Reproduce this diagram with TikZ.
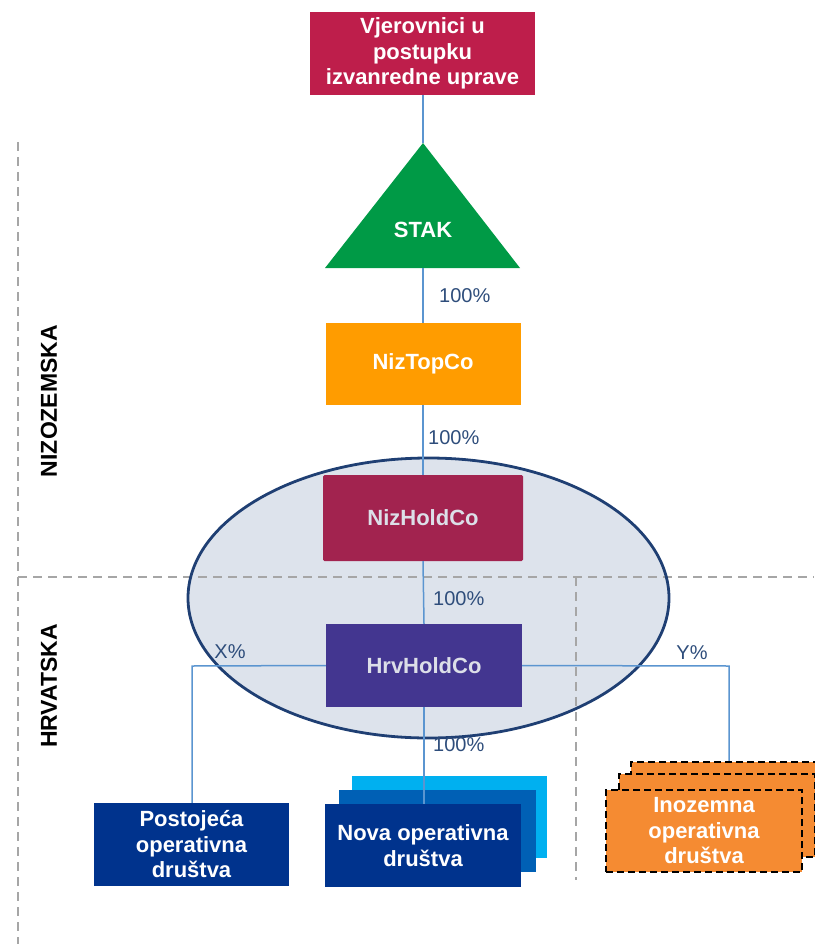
\documentclass[tikz,border=0pt]{standalone}
\usepackage{fontspec}
\setmainfont{Liberation Sans}
\definecolor{topc}{HTML}{BE1E4B}
\definecolor{stakc}{HTML}{009A46}
\definecolor{niztopc}{HTML}{FF9C00}
\definecolor{nizholdc}{HTML}{A2234F}
\definecolor{hrvholdc}{HTML}{433690}
\definecolor{navyc}{HTML}{00338D}
\definecolor{midbluec}{HTML}{0060B5}
\definecolor{lightbluec}{HTML}{00B0F0}
\definecolor{orangec}{HTML}{F58B32}
\definecolor{linec}{HTML}{5B95D0}
\definecolor{pctc}{HTML}{2E4D7B}
\definecolor{sepc}{HTML}{A6A6A6}
\definecolor{ellfill}{HTML}{DDE3EC}
\definecolor{elldraw}{HTML}{1F3F73}
\definecolor{paletext}{HTML}{DCDFE8}
\begin{document}
\begin{tikzpicture}[x=1pt,y=-1pt,
  box/.style={rectangle, inner sep=0pt, text=white, align=center,
    font=\bfseries\fontsize{22}{25.5}\selectfont},
  conn/.style={draw=linec, line width=1.5pt},
  pct/.style={text=pctc, inner sep=0pt, font=\fontsize{20}{24}\selectfont},
  sepline/.style={draw=sepc, line width=1.8pt, dash pattern=on 9pt off 6pt},
  region/.style={rotate=90, inner sep=0pt, font=\bfseries\fontsize{23}{27}\selectfont},
  orangebox/.style={fill=orangec, draw=black, line width=2.2pt, dash pattern=on 7pt off 4pt}]
\useasboundingbox (0,0) rectangle (814,944);
% ellipse fill
\fill[ellfill] (428.5,598) ellipse [x radius=240.5pt, y radius=140pt];
% separators
\coordinate (sepTL) at (18,142);
\coordinate (sepBL) at (18,944);
\coordinate (sepML) at (18,577);
\coordinate (sepMR) at (814,577);
\coordinate (sepVT) at (576,577);
\coordinate (sepVB) at (576,880);
\draw[sepline] (sepTL) -- (sepBL);
\draw[sepline] (sepML) -- (sepMR);
\draw[sepline] (sepVT) -- (sepVB);
% ellipse border
\draw[elldraw, line width=2.8pt] (428.5,598) ellipse [x radius=240.5pt, y radius=140pt];
% region labels
\node[region] (nl) at (49,401) {NIZOZEMSKA};
\node[region] (hl) at (49,686) {HRVATSKA};
% top box
\node[box, fill=topc, minimum width=225pt, minimum height=83pt] (top) at (422.5,53.5) {Vjerovnici u\\postupku\\izvanredne uprave};
% STAK triangle
\coordinate (stakTop) at (423,143);
\coordinate (stakBot) at (423,268);
\fill[stakc] (stakTop) -- (520,268) -- (325,268) -- cycle;
\node[box] (stak) at (423,230) {STAK};
% NizTopCo
\node[box, fill=niztopc, minimum width=195pt, minimum height=82pt] (niztop) at (423,364) {NizTopCo};
% NizHoldCo
\node[box, fill=nizholdc, text=paletext, minimum width=200pt, minimum height=86pt, rounded corners=1.5pt] (nizhold) at (423,518) {NizHoldCo};
% HrvHoldCo
\node[box, fill=hrvholdc, text=paletext, minimum width=196pt, minimum height=83pt] (hrvhold) at (424,665.5) {HrvHoldCo};
% Postojeca
\node[box, fill=navyc, minimum width=195pt, minimum height=83pt] (post) at (191.5,844.5) {Postojeća\\operativna\\društva};
% Nova stack
\node[box, fill=lightbluec, minimum width=195pt, minimum height=82pt] (nova3) at (449.5,817) {};
\node[box, fill=midbluec, minimum width=197pt, minimum height=82pt] (nova2) at (437.5,831) {};
\node[box, fill=navyc, minimum width=196pt, minimum height=83pt] (nova) at (423,845.5) {Nova operativna\\društva};
% Inozemna stack
\node[box, orangebox, minimum width=196pt, minimum height=83pt] (ino3) at (729,803.5) {};
\node[box, orangebox, minimum width=196pt, minimum height=83pt] (ino2) at (717,815.5) {};
\node[box, orangebox, minimum width=196pt, minimum height=82pt] (ino) at (704,831) {Inozemna\\operativna\\društva};
% connectors
\coordinate (xcorner) at (192,666);
\coordinate (ycorner) at (729,666);
\draw[conn] (top.south -| stakTop) -- (stakTop);
\draw[conn] (stakBot) -- (niztop.north -| stakBot);
\draw[conn] (niztop.south) -- (nizhold.north);
\draw[conn] (nizhold.south) -- (hrvhold.north);
\draw[conn] (hrvhold.south) -- (nova.north -| hrvhold.south);
\draw[conn] (hrvhold.west) -- (xcorner) -- (xcorner |- post.north);
\draw[conn] (hrvhold.east) -- (ycorner) -- (ycorner |- ino3.north);
% percentages
\node[pct, anchor=west] (p1) at (439,296) {100\%};
\node[pct, anchor=west] (p2) at (428,438) {100\%};
\node[pct, anchor=west] (p3) at (433,599) {100\%};
\node[pct, anchor=west] (p4) at (433,745) {100\%};
\node[pct] (px) at (230,652) {X\%};
\node[pct] (py) at (692,653) {Y\%};
\end{tikzpicture}
\end{document}
